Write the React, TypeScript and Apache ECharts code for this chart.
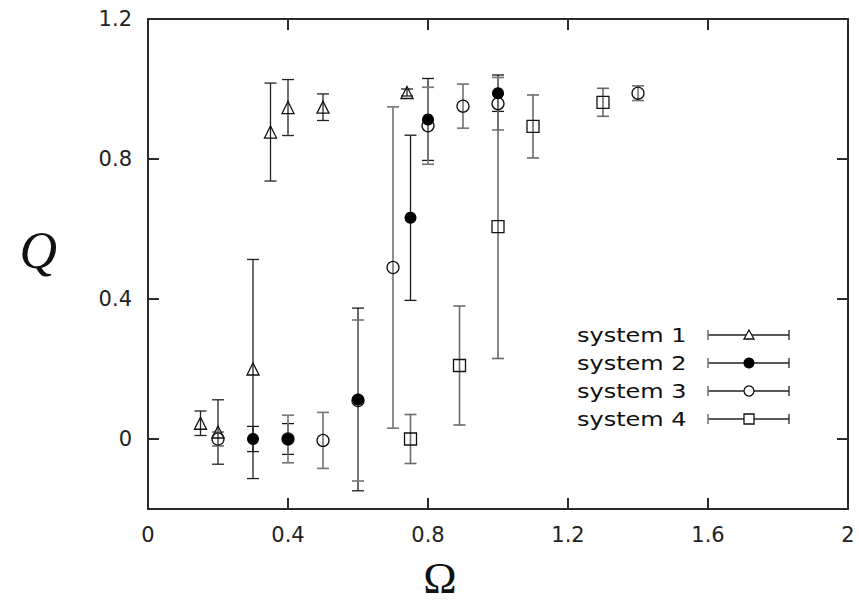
import React, { useEffect, useRef } from "react";
import * as echarts from "echarts";

// Omega positions, order parameter Q and its error, per system
const sys1X = [0.15, 0.2, 0.3, 0.35, 0.4, 0.5, 0.74];
const sys1Q = [0.045, 0.02, 0.2, 0.877, 0.947, 0.948, 0.99];
const sys1Err = [0.035, 0.092, 0.313, 0.14, 0.08, 0.038, 0.01];

const sys2X = [0.3, 0.4, 0.6, 0.75, 0.8, 1.0];
const sys2Q = [0.0, 0.0, 0.113, 0.632, 0.913, 0.988];
const sys2Err = [0.036, 0.044, 0.261, 0.236, 0.117, 0.052];

const sys3X = [0.2, 0.4, 0.5, 0.6, 0.7, 0.8, 0.9, 1.0, 1.4];
const sys3Q = [0.0, 0.0, -0.004, 0.11, 0.49, 0.895, 0.951, 0.958, 0.988];
const sys3Err = [0.02, 0.068, 0.08, 0.23, 0.459, 0.11, 0.063, 0.075, 0.021];

const sys4X = [0.75, 0.89, 1.0, 1.1, 1.3];
const sys4Q = [0.0, 0.21, 0.607, 0.893, 0.962];
const sys4Err = [0.07, 0.17, 0.377, 0.09, 0.04];

const seriesNames = ["system 1", "system 2", "system 3", "system 4"];
const xTicks = [0, 0.4, 0.8, 1.2, 1.6, 2];
const yTicks = [0, 0.4, 0.8, 1.2];

const AXIS = "#2a2a2a";
const INK = "#111";

export default function App() {
  const ref = useRef<HTMLDivElement>(null);

  useEffect(() => {
    if (!ref.current) return;
    const chart = echarts.init(ref.current, null, { renderer: "svg" });

    const systems = [
      { x: sys1X, q: sys1Q, e: sys1Err, symbol: "triangle", filled: false, bar: "#222", bw: 1.3 },
      { x: sys2X, q: sys2Q, e: sys2Err, symbol: "circle", filled: true, bar: "#1a1a1a", bw: 1.3 },
      { x: sys3X, q: sys3Q, e: sys3Err, symbol: "circle", filled: false, bar: "#7a7a7a", bw: 1.7 },
      { x: sys4X, q: sys4Q, e: sys4Err, symbol: "rect", filled: false, bar: "#6a6a6a", bw: 1.6 },
    ];

    const capHalf = 6;
    const errSeries = systems.map((s, i) => ({
      type: "custom",
      name: seriesNames[i] + " error",
      xAxisIndex: 0,
      yAxisIndex: 0,
      z: 2,
      silent: true,
      data: s.x.map((x, k) => [x, s.q[k] - s.e[k], s.q[k] + s.e[k]]),
      renderItem: (params: any, api: any) => {
        const x = api.value(0);
        const lo = api.value(1);
        const hi = api.value(2);
        const t = api.coord([x, hi]);
        const b = api.coord([x, lo]);
        const style = { stroke: s.bar, lineWidth: s.bw, fill: "none" };
        return {
          type: "group",
          children: [
            { type: "line", shape: { x1: t[0], y1: t[1], x2: b[0], y2: b[1] }, style },
            { type: "line", shape: { x1: t[0] - capHalf, y1: t[1], x2: t[0] + capHalf, y2: t[1] }, style },
            { type: "line", shape: { x1: b[0] - capHalf, y1: b[1], x2: b[0] + capHalf, y2: b[1] }, style },
          ],
        };
      },
    }));

    const markSeries = systems.map((s, i) => ({
      type: "scatter",
      name: seriesNames[i],
      xAxisIndex: 0,
      yAxisIndex: 0,
      z: s.filled ? 5 : 4,
      symbol: s.symbol,
      symbolSize: 12,
      silent: true,
      itemStyle: {
        color: s.filled ? "#000" : "rgba(0,0,0,0)",
        borderColor: INK,
        borderWidth: s.filled ? 0 : 1.3,
        opacity: 1,
      },
      data: s.x.map((x, k) => [x, s.q[k]]),
    }));

    // legend drawn as graphics: text, error bar, marker
    const rowY = [335, 363, 391, 419];
    const legendChildren: any[] = [];
    seriesNames.forEach((name, i) => {
      const y = rowY[i];
      legendChildren.push({
        type: "text",
        x: 577,
        y,
        scaleX: 1.2,
        style: {
          text: name,
          fontFamily: "DejaVu Sans",
          fontSize: 20,
          fill: INK,
          align: "left",
          verticalAlign: "middle",
        },
      });
      const ls = { stroke: "#222", lineWidth: 1.3 };
      legendChildren.push({ type: "line", shape: { x1: 708, y1: y, x2: 789, y2: y }, style: ls });
      legendChildren.push({ type: "line", shape: { x1: 708, y1: y - 5, x2: 708, y2: y + 5 }, style: { stroke: "#777", lineWidth: 1.6 } });
      legendChildren.push({ type: "line", shape: { x1: 789, y1: y - 5, x2: 789, y2: y + 5 }, style: ls });
      const cx = 749;
      if (i === 0) {
        legendChildren.push({
          type: "polygon",
          shape: { points: [[cx, y - 5], [cx - 5, y + 4], [cx + 5, y + 4]] },
          style: { fill: "#fff", stroke: INK, lineWidth: 1.3 },
        });
      } else if (i === 1) {
        legendChildren.push({ type: "circle", shape: { cx, cy: y, r: 5.5 }, style: { fill: "#000" } });
      } else if (i === 2) {
        legendChildren.push({ type: "circle", shape: { cx, cy: y, r: 5 }, style: { fill: "#fff", stroke: INK, lineWidth: 1.3 } });
      } else {
        legendChildren.push({ type: "rect", shape: { x: cx - 5, y: y - 5, width: 10, height: 10 }, style: { fill: "#fff", stroke: INK, lineWidth: 1.3 } });
      }
    });

    const baseAxis = {
      type: "value",
      axisLine: { show: true, onZero: false, lineStyle: { color: AXIS, width: 2 } },
      axisTick: { show: true, inside: true, length: 11, lineStyle: { color: AXIS, width: 2 } },
      splitLine: { show: false },
    };

    chart.setOption({
      animation: false,
      backgroundColor: "#fff",
      grid: { left: 148, right: 11, top: 19, bottom: 96, containLabel: false, outerBoundsMode: "none" },
      xAxis: [
        {
          ...baseAxis,
          position: "bottom",
          min: 0,
          max: 2,
          axisTick: { ...baseAxis.axisTick, customValues: xTicks },
          axisLabel: {
            customValues: xTicks,
            fontFamily: "DejaVu Sans",
            fontSize: 21,
            color: "#222",
            margin: 15,
          },
          name: "Ω",
          nameLocation: "middle",
          nameGap: 49,
          nameTextStyle: {
            fontFamily: "Liberation Serif",
            fontSize: 45,
            lineHeight: 40,
            color: INK,
            padding: [0, 116, 0, 0],
          },
        },
        {
          ...baseAxis,
          position: "top",
          min: 0,
          max: 2,
          axisTick: { ...baseAxis.axisTick, customValues: xTicks },
          axisLabel: { show: false },
        },
      ],
      yAxis: [
        {
          ...baseAxis,
          position: "left",
          min: -0.2,
          max: 1.2,
          axisTick: { ...baseAxis.axisTick, customValues: yTicks },
          axisLabel: {
            customValues: yTicks,
            fontFamily: "DejaVu Sans",
            fontSize: 21,
            color: "#222",
            margin: 16,
          },
          name: "Q",
          nameLocation: "middle",
          nameRotate: 0,
          nameGap: 91,
          nameTextStyle: {
            fontFamily: "Liberation Serif",
            fontStyle: "italic",
            fontSize: 52,
            lineHeight: 28,
            color: INK,
            verticalAlign: "bottom",
          },
        },
        {
          ...baseAxis,
          position: "right",
          min: -0.2,
          max: 1.2,
          axisTick: { ...baseAxis.axisTick, customValues: yTicks },
          axisLabel: { show: false },
        },
      ],
      series: [...errSeries, ...markSeries],
      graphic: [{ type: "group", children: legendChildren }],
    });

    return () => chart.dispose();
  }, []);

  return (
    <div
      ref={ref}
      style={{ position: "absolute", left: 0, top: 0, width: 859, height: 605, background: "#fff" }}
    />
  );
}
